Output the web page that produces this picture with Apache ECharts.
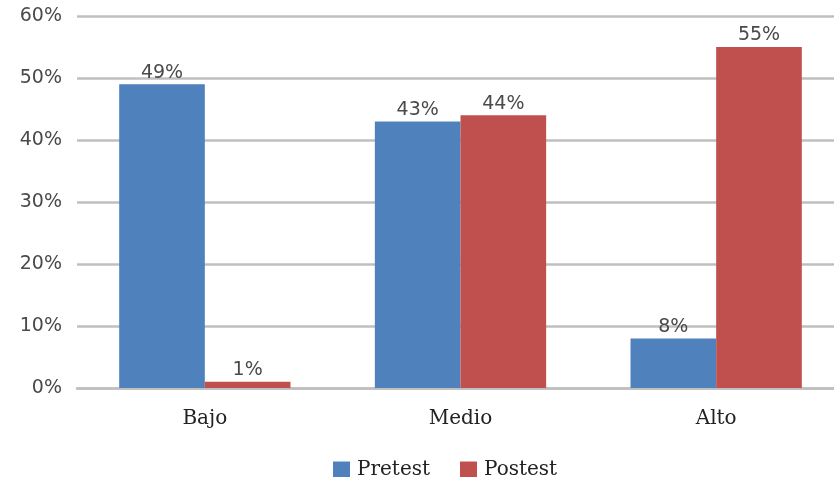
<!DOCTYPE html>
<html>
<head>
<meta charset="utf-8">
<script src="https://cdn.jsdelivr.net/npm/echarts@6/dist/echarts.min.js"></script>
<style>
  html, body { margin: 0; padding: 0; background: #fff; }
  #chart { width: 834px; height: 477px; }
</style>
</head>
<body>
<div id="chart"></div>
<script>
const categories = ['Bajo', 'Medio', 'Alto']
const pretest = [49, 43, 8]
const postest = [1, 44, 55]
const yTicks = [0, 10, 20, 30, 40, 50, 60]

const chart = echarts.init(document.getElementById('chart'))
const labelStyle = {
    show: true,
    position: 'top',
    distance: 2,
    formatter: '{c}%',
    color: '#4a4a4a',
    fontFamily: 'DejaVu Sans',
    fontSize: 19
}
const option = {
    animation: false,
    grid: { left: 77, width: 767, top: 16, bottom: 89, outerBoundsMode: 'none' },
    legend: {
        data: ['Pretest', 'Postest'],
        left: 328,
        top: 455,
        itemWidth: 17,
        itemHeight: 17,
        itemGap: 30,
        icon: 'rect',
        textStyle: { fontFamily: 'DejaVu Serif', fontSize: 20, color: '#222', padding: [0, 0, 0, 2] }
    },
    xAxis: {
        type: 'category',
        data: categories,
        axisTick: { show: false },
        axisLine: { lineStyle: { color: '#bfbfbf', width: 2.5 } },
        axisLabel: { margin: 21, fontFamily: 'DejaVu Serif', fontSize: 20, color: '#222' }
    },
    yAxis: {
        type: 'value',
        min: yTicks[0],
        max: yTicks[yTicks.length - 1],
        interval: 10,
        axisLine: { show: false },
        axisTick: { show: false },
        splitLine: { lineStyle: { color: '#bfbfbf', width: 2.5 } },
        axisLabel: {
            margin: 15,
            padding: [6, 0, 0, 0],
            formatter: '{value}%',
            fontFamily: 'DejaVu Sans',
            fontSize: 19,
            color: '#4a4a4a'
        }
    },
    series: [
        {
            name: 'Pretest',
            type: 'bar',
            data: pretest,
            barGap: '0%',
            barCategoryGap: '33%',
            itemStyle: { color: '#4f81bd' },
            label: labelStyle
        },
        {
            name: 'Postest',
            type: 'bar',
            data: postest,
            barGap: '0%',
            barCategoryGap: '33%',
            itemStyle: { color: '#c0504d' },
            label: labelStyle
        }
    ]
}
chart.setOption(option)
</script>
</body>
</html>
